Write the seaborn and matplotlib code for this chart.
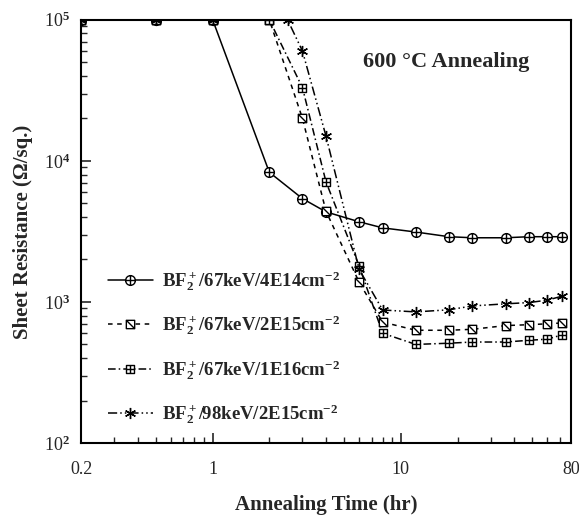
import numpy as np
import pandas as pd
import matplotlib
matplotlib.use("Agg")
import matplotlib.pyplot as plt
import seaborn as sns
from matplotlib.path import Path

# Datos
time_a = [0.2, 0.5, 1, 2, 3, 4, 6, 8, 12, 18, 24, 36, 48, 60, 72]
time_b = [0.2, 0.5, 1, 2.5, 3, 4, 6, 8, 12, 18, 24, 36, 48, 60, 72]
rs_4e14 = [1e5, 1e5, 1e5, 8.3e3, 5.4e3, 4.35e3, 3.7e3, 3.35e3, 3.13e3, 2.9e3, 2.85e3, 2.85e3, 2.9e3, 2.9e3, 2.9e3]
rs_2e15 = [1e5, 1e5, 1e5, 1e5, 2.0e4, 4.4e3, 1.38e3, 720, 630, 630, 640, 680, 690, 700, 710]
rs_1e16 = [1e5, 1e5, 1e5, 1e5, 3.3e4, 7.1e3, 1.8e3, 600, 500, 510, 520, 520, 535, 545, 585]
rs_98kev = [1e5, 1e5, 1e5, 1e5, 6.0e4, 1.5e4, 1.7e3, 877, 850, 880, 937, 970, 990, 1030, 1100]
labels = [r"BF$_2^+$/67keV/4E14cm$^{-2}$",
          r"BF$_2^+$/67keV/2E15cm$^{-2}$",
          r"BF$_2^+$/67keV/1E16cm$^{-2}$",
          r"BF$_2^+$/98keV/2E15cm$^{-2}$"]

# 📌 Marcadores personalizados
M, L, C = Path.MOVETO, Path.LINETO, Path.CLOSEPOLY
hline = Path([(-1, 0), (1, 0)], [M, L])
vline = Path([(0, -1), (0, 1)], [M, L])
square = Path([(-1, -1), (1, -1), (1, 1), (-1, 1), (-1, -1)], [M, L, L, L, C])
circle_plus = Path.make_compound_path(Path.unit_circle(), hline, vline)
square_slash = Path.make_compound_path(square, Path([(-1, 1), (1, -1)], [M, L]))
square_plus = Path.make_compound_path(square, hline, vline)

sns.set_theme(style="ticks")
plt.rcParams["font.family"] = ["Liberation Serif", "DejaVu Serif"]
plt.rcParams["font.weight"] = "bold"
plt.rcParams["mathtext.fontset"] = "custom"
plt.rcParams["mathtext.rm"] = "Liberation Serif:bold"
plt.rcParams["mathtext.it"] = "Liberation Serif:bold"
plt.rcParams["mathtext.bf"] = "Liberation Serif:bold"
plt.rcParams["mathtext.default"] = "rm"
plt.rcParams["xtick.direction"] = "in"
plt.rcParams["ytick.direction"] = "in"

fig = plt.figure(figsize=(5.79, 5.2), dpi=100)
ax = fig.add_axes([0.14, 0.148, 0.846, 0.814])

series = [
    (time_a, rs_4e14, "-", circle_plus, 7),
    (time_a, rs_2e15, (0, (3, 3)), square_slash, 6),
    (time_a, rs_1e16, (0, (5, 2, 1, 2)), square_plus, 6),
    (time_b, rs_98kev, (0, (6, 2, 1, 2, 1, 2)), (6, 2, 0), 8),
]
for (t, r, ls, mk, ms), lab in zip(series, labels):
    df = pd.DataFrame({"t": t, "r": r})
    sns.lineplot(data=df, x="t", y="r", ax=ax, color="black", linewidth=1.1,
                 linestyle=ls, marker=mk, markersize=ms, markerfacecolor="white",
                 markeredgecolor="black", markeredgewidth=1.0, label=lab)

ax.set_xscale("log")
ax.set_yscale("log")
ax.set_xlim(0.2, 80)
ax.set_ylim(1e2, 1e5)
ax.set_xticks([0.2, 1, 10, 80])
ax.set_xticklabels(["0.2", "1", "10", "80"])
ax.set_yticks([1e2, 1e3, 1e4, 1e5])
ax.set_yticklabels([r"10$^2$", r"10$^3$", r"10$^4$", r"10$^5$"])
ax.tick_params(axis="both", which="major", labelsize=13, length=7, width=1.2)
ax.tick_params(axis="x", which="major", pad=13)
ax.tick_params(axis="y", which="major", pad=8)
ax.tick_params(axis="both", which="minor", length=4, width=1.0)
for lab in ax.get_xticklabels() + ax.get_yticklabels():
    lab.set_fontweight("normal")
for s in ax.spines.values():
    s.set_linewidth(1.5)
    s.set_color("black")

ax.set_xlabel("Annealing Time (hr)", fontsize=15, fontweight="bold", labelpad=12)
ax.set_ylabel("Sheet Resistance (\u03a9/sq.)", fontsize=15, fontweight="bold", labelpad=8)
ax.text(0.745, 0.90, "600 \u00b0C Annealing", transform=ax.transAxes, fontsize=16,
        fontweight="bold", ha="center", va="center")

ax.legend(loc="lower left", bbox_to_anchor=(0.02, 0.0), frameon=False, fontsize=13.5,
          handlelength=2.4, labelspacing=1.1, handletextpad=0.5)

plt.savefig("out.png", dpi=100)
